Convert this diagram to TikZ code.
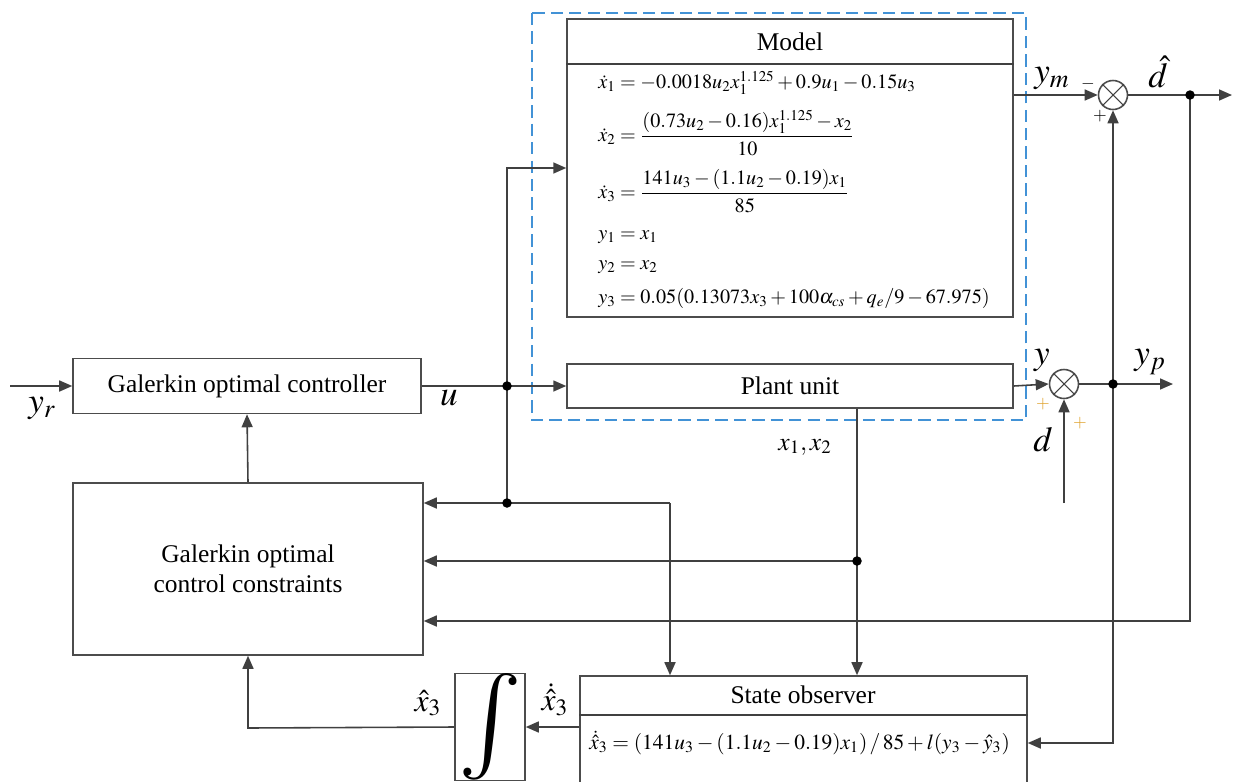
\documentclass[tikz,border=0pt]{standalone}
\usepackage{amsmath, amssymb}
\usepackage{mathptmx}
\usepackage{fontspec}
\setmainfont{Liberation Serif}
\usetikzlibrary{positioning}
\usetikzlibrary{calc}
\usetikzlibrary{arrows.meta}
\definecolor{dashblue}{RGB}{66,146,214}
\definecolor{plusorange}{RGB}{222,160,40}

\begin{document}
\begin{tikzpicture}[x=0.02cm, y=-0.02cm,
                graysquarednode/.style={rectangle, draw=black!70, line width=0.9pt, inner sep=0pt, font=\fontsize{14.5}{17}\selectfont},
                sumnode/.style={circle, draw=black!70, line width=0.9pt, minimum size=0.58cm, inner sep=0pt},
                wire/.style={draw=black!75, line width=0.9pt},
                arr/.style={wire, -{Triangle[length=2.6mm, width=2.2mm]}},
                bigsym/.style={inner sep=1pt, font=\fontsize{20}{24}\selectfont},
                eqnode/.style={anchor=west, inner sep=0pt, font=\fontsize{11.5}{14}\selectfont},
                dotnode/.style={circle, fill=black, inner sep=0pt, minimum size=1.9mm},
                ]
                \useasboundingbox (0,0) rectangle (1243,781);

                % blocks
                \node[graysquarednode, minimum width=6.96cm, minimum height=1.1cm] (ctrl) at (247,386) {Galerkin optimal controller};
                \node[graysquarednode, minimum width=7cm, minimum height=3.44cm, align=center] (cons) at (248,569) {Galerkin optimal\\control constraints};
                \node[graysquarednode, minimum width=8.92cm, minimum height=5.96cm] (model) at (790,168) {};
                \node[graysquarednode, minimum width=8.92cm, minimum height=0.88cm] (plant) at (790,386) {Plant unit};
                \node[graysquarednode, minimum width=8.94cm, minimum height=2.28cm] (obs) at (803.5,733) {};
                \node[graysquarednode, minimum width=1.4cm, minimum height=1.88cm] (integ) at (490,727) {\resizebox{!}{1.6cm}{$\int$}};
                \node[sumnode] (sa) at (1113,95) {};
                \node[sumnode] (sb) at (1064,384) {};

                \draw[dashblue, line width=1.1pt, dash pattern=on 7pt off 3.5pt] (532,13) rectangle (1026,420);

                % model contents
                \node[font=\fontsize{14.5}{17}\selectfont] (modeltitle) at (790,42) {Model};
                \draw[wire] (model.west |- 0,64) -- (model.east |- 0,64);
                \node[eqnode] (eqa) at (598,83) {$\dot{x}_1 = -0.0018u_2x_1^{1.125} + 0.9u_1 - 0.15u_3$};
                \node[eqnode] (eqb) at (598,133) {$\dot{x}_2 = \dfrac{(0.73u_2 - 0.16)x_1^{1.125} - x_2}{10}$};
                \node[eqnode] (eqc) at (598,191) {$\dot{x}_3 = \dfrac{141u_3 - (1.1u_2 - 0.19)x_1}{85}$};
                \node[eqnode] (eqd) at (598,237) {$y_1 = x_1$};
                \node[eqnode] (eqe) at (598,267) {$y_2 = x_2$};
                \node[eqnode] (eqf) at (598,298) {$y_3 = 0.05(0.13073x_3 + 100\alpha_{cs} + q_e/9 - 67.975)$};

                % observer contents
                \node[font=\fontsize{14.5}{17}\selectfont] (obstitle) at (803,695) {State observer};
                \draw[wire] (obs.west |- 0,715) -- (obs.east |- 0,715);
                \node[eqnode, font=\fontsize{12.2}{15}\selectfont] (eqg) at (589,743) {$\dot{\hat{x}}_3 = (141u_3 - (1.1u_2 - 0.19)x_1)\,/\,85 + l(y_3 - \hat{y}_3)$};

                % labels
                \node[bigsym] (yrlab) at (42,408) {$y_r$};
                \node[bigsym] (ulab) at (449,398) {$u$};
                \node[bigsym] (ymlab) at (1052,78) {$y_m$};
                \node[bigsym] (dhatlab) at (1158,72) {$\hat{d}$};
                \node[bigsym] (ylab) at (1042,360) {$y$};
                \node[bigsym] (yplab) at (1150,362) {$y_p$};
                \node[bigsym] (dlab) at (1043,440) {$d$};
                \node[font=\fontsize{14.5}{17}\selectfont] (x12lab) at (805,447) {$x_1,x_2$};
                \node[inner sep=0pt, font=\fontsize{18}{22}\selectfont] (x3dlab) at (555,700) {$\dot{\hat{x}}_3$};
                \node[inner sep=0pt, font=\fontsize{18}{22}\selectfont] (x3hlab) at (428,703) {$\hat{x}_3$};
                \node (minus) at (1088,84) {$-$};
                \node (plusa) at (1100,116) {$+$};
                \node[plusorange] (plusb) at (1043,404) {$+$};
                \node[plusorange] (plusc) at (1080,423) {$+$};

                % junctions
                \coordinate (yrin) at (10,386);
                \coordinate (uj) at (507,386);
                \coordinate (ujb) at (507,503);
                \coordinate (ucorner) at (670,503);
                \coordinate (xj) at (857,561);
                \coordinate (dj) at (1190,95);
                \coordinate (dout) at (1232,95);
                \coordinate (dcorner) at (1190,621);
                \coordinate (yj) at (1113,384);
                \coordinate (ypout) at (1173,384);
                \coordinate (ycorner) at (1113,743);
                \coordinate (dsrc) at (1064,503);
                \coordinate (icorner) at (248,728);

                \draw[arr] (yrin) -- (ctrl.west);
                \draw[wire] (ctrl.east) -- (uj);
                \draw[arr] (uj) -- (plant.west);
                \draw[arr] (uj) |- (model.west);
                \draw[wire] (uj) -- (ujb);
                \draw[arr] (ucorner) -- (cons.east |- ucorner);
                \draw[arr] (ucorner) -- (obs.north -| ucorner);
                \draw[wire] (plant.south -| xj) -- (xj);
                \draw[arr] (xj) -- (obs.north -| xj);
                \draw[arr] (xj) -- (cons.east |- xj);
                \draw[arr] (model.east |- sa) -- (sa.west);
                \draw[arr] (sa.east) -- (dout);
                \draw[arr] (dj) -- (dcorner) -- (cons.east |- dcorner);
                \draw[arr] (plant.east) -- (sb.west);
                \draw[arr] (dsrc) -- (sb.south);
                \draw[arr] (sb.east) -- (ypout);
                \draw[arr] (yj) -- (sa.south);
                \draw[arr] (yj) -- (ycorner) -- (obs.east |- ycorner);
                \draw[arr] (obs.west |- integ) -- (integ.east);
                \draw[arr] (integ.west) -- (icorner) -- (cons.south);
                \draw[arr] (cons.north) -- (ctrl.south);

                \foreach \s in {sa, sb}
                    \draw[wire, line width=0.6pt] (\s.north west) -- (\s.south east) (\s.north east) -- (\s.south west);
                \foreach \p in {uj, ujb, xj, dj, yj}
                    \node[dotnode] at (\p) {};
            \end{tikzpicture}
\end{document}
